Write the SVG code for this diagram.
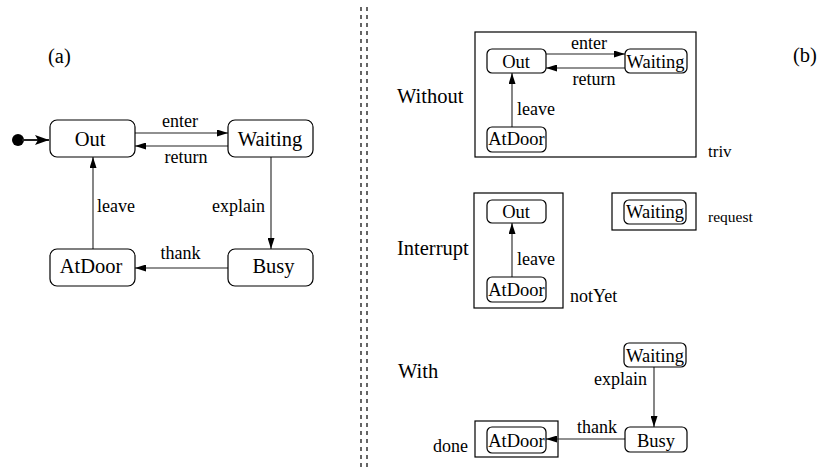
<svg xmlns="http://www.w3.org/2000/svg" width="821" height="474" viewBox="0 0 821 474">
<style>
  text { font-family: "Liberation Serif", "Times New Roman", serif; fill: #000; }
  .node { fill: #fff; stroke: #000; stroke-width: 1.2; }
  .frame { fill: none; stroke: #000; stroke-width: 1.2; }
  .big { font-size: 20.5px; text-anchor: middle; }
  .small { font-size: 18.5px; text-anchor: middle; }
  .lbl { font-size: 18px; }
  .mid { text-anchor: middle; }
  .end { text-anchor: end; }
  .title { font-size: 20.5px; }
  .conn line { stroke: #222; stroke-width: 1.1; fill: none; marker-end: url(#ah); }
  .div { stroke: #000; stroke-width: 1.2; stroke-dasharray: 4 4; }
</style>
<defs>
  <marker id="ah" markerUnits="userSpaceOnUse" markerWidth="11" markerHeight="7" refX="11" refY="3.5" orient="auto">
    <path d="M0,0 L11,3.5 L0,7 z" fill="#000"/>
  </marker>
  <marker id="ahbig" markerUnits="userSpaceOnUse" markerWidth="14" markerHeight="10" refX="14" refY="5" orient="auto">
    <path d="M0,0 L14,5 L0,10 L3,5 z" fill="#000"/>
  </marker>
</defs>
<rect width="821" height="474" fill="#fff"/>

<!-- divider -->
<g id="divider">
  <line class="div" x1="361" y1="7" x2="361" y2="470"/>
  <line class="div" x1="367" y1="7" x2="367" y2="470"/>
</g>

<!-- panel labels -->
<text x="48" y="63" class="title">(a)</text>
<text x="793" y="62" class="title">(b)</text>

<!-- (a) connectors -->
<g id="connectors-a" class="conn">
  <circle cx="18" cy="140" r="6" fill="#000"/>
  <line x1="22" y1="140" x2="49" y2="140" style="stroke-width:2;marker-end:url(#ahbig)"/>
  <line x1="135" y1="133" x2="228" y2="133"/>
  <line x1="228" y1="146" x2="135" y2="146"/>
  <line x1="93" y1="249" x2="93" y2="157"/>
  <line x1="271" y1="157" x2="271" y2="249"/>
  <line x1="228" y1="268" x2="135" y2="268"/>
  <text x="180" y="127" class="lbl mid">enter</text>
  <text x="186" y="163" class="lbl mid">return</text>
  <text x="97" y="212" class="lbl">leave</text>
  <text x="265" y="212" class="lbl end">explain</text>
  <text x="180.5" y="259" class="lbl mid">thank</text>
</g>

<!-- (a) nodes -->
<g id="a-out"><rect class="node" x="50" y="120" width="85" height="37" rx="7"/><text x="90" y="146" class="big">Out</text></g>
<g id="a-waiting"><rect class="node" x="228" y="120" width="85" height="37" rx="7"/><text x="270" y="146" class="big">Waiting</text></g>
<g id="a-atdoor"><rect class="node" x="50" y="249" width="85" height="37" rx="7"/><text x="91" y="273" class="big">AtDoor</text></g>
<g id="a-busy"><rect class="node" x="228" y="249" width="85" height="37" rx="7"/><text x="273.5" y="273" class="big">Busy</text></g>

<!-- (b) Without -->
<text x="397" y="103" class="title">Without</text>
<g id="b-without-frame"><rect class="frame" x="475" y="32" width="221" height="125"/></g>
<text x="708" y="157" style="font-size:17px">triv</text>

<!-- (b) Interrupt -->
<text x="397" y="255" class="title">Interrupt</text>
<g id="b-interrupt-frame"><rect class="frame" x="474" y="193" width="89" height="115"/></g>
<text x="570" y="302" class="lbl">notYet</text>
<g id="b-request-frame"><rect class="frame" x="612" y="193" width="84" height="37"/></g>
<text x="708" y="222" style="font-size:15.5px">request</text>

<!-- (b) With -->
<text x="398" y="378" class="title">With</text>
<g id="b-done-frame"><rect class="frame" x="475" y="421" width="83" height="36"/></g>
<text x="433" y="452" class="lbl">done</text>

<!-- (b) connectors -->
<g id="connectors-b" class="conn">
  <line x1="546" y1="54" x2="625" y2="54"/>
  <line x1="625" y1="68" x2="546" y2="68"/>
  <line x1="512" y1="127" x2="512" y2="73"/>
  <line x1="512" y1="277" x2="512" y2="223"/>
  <line x1="654" y1="367" x2="654" y2="427"/>
  <line x1="625" y1="439" x2="546" y2="439"/>
  <text x="589" y="49" class="lbl mid">enter</text>
  <text x="594" y="85" class="lbl mid">return</text>
  <text x="517" y="115" class="lbl">leave</text>
  <text x="517" y="265" class="lbl">leave</text>
  <text x="647" y="385" class="lbl end">explain</text>
  <text x="597" y="433" class="lbl mid">thank</text>
</g>

<!-- (b) nodes -->
<g id="b1-out"><rect class="node" x="487" y="49" width="59" height="24" rx="5"/><text x="516" y="68" class="small">Out</text></g>
<g id="b1-waiting"><rect class="node" x="625" y="49" width="62" height="24" rx="5"/><text x="655.5" y="68" class="small">Waiting</text></g>
<g id="b1-atdoor"><rect class="node" x="487" y="127" width="59" height="25" rx="5"/><text x="516.5" y="145" class="small">AtDoor</text></g>

<g id="b2-out"><rect class="node" x="487" y="200" width="59" height="23" rx="5"/><text x="516" y="218" class="small">Out</text></g>
<g id="b2-atdoor"><rect class="node" x="487" y="277" width="59" height="25" rx="5"/><text x="516.5" y="296" class="small">AtDoor</text></g>
<g id="b2-waiting"><rect class="node" x="624" y="200" width="62" height="24" rx="5"/><text x="655" y="218" class="small">Waiting</text></g>

<g id="b3-waiting"><rect class="node" x="624" y="343" width="62" height="24" rx="5"/><text x="655" y="362" class="small">Waiting</text></g>
<g id="b3-busy"><rect class="node" x="625" y="427" width="62" height="25" rx="5"/><text x="656" y="447" class="small">Busy</text></g>
<g id="b3-atdoor"><rect class="node" x="487" y="427" width="59" height="26" rx="5"/><text x="516.5" y="447" class="small">AtDoor</text></g>
</svg>
